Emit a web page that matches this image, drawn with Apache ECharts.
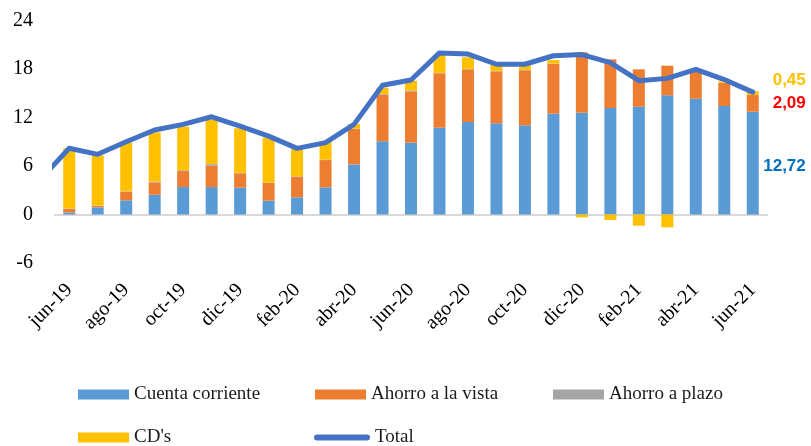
<!DOCTYPE html>
<html>
<head>
<meta charset="utf-8">
<script src="https://cdn.jsdelivr.net/npm/echarts@6/dist/echarts.min.js"></script>
<style>
  html, body { margin: 0; padding: 0; background: #ffffff; }
  #chart { width: 811px; height: 446px; }
</style>
</head>
<body>
<div id="chart"></div>
<script>
// Monthly categories, jun-19 .. jun-21
const months = ['jun-19','jul-19','ago-19','sep-19','oct-19','nov-19','dic-19','ene-20','feb-20','mar-20','abr-20','may-20',
  'jun-20','jul-20','ago-20','sep-20','oct-20','nov-20','dic-20','ene-21','feb-21','mar-21','abr-21','may-21','jun-21'];

// Stacked components
const cuentaCorriente = [0.25, 0.89, 1.76, 2.45, 3.40, 3.40, 3.32, 1.71, 2.13, 3.36, 6.20, 9.06,
  8.89, 10.74, 11.45, 11.29, 11.04, 12.48, 12.60, 13.18, 13.34, 14.75, 14.33, 13.43, 12.72];
const ahorroVista = [0.45, 0.16, 1.06, 1.53, 1.98, 2.64, 1.78, 2.19, 2.55, 3.38, 4.38, 5.73,
  6.36, 6.73, 6.52, 6.43, 6.81, 6.15, 7.47, 6.02, 4.63, 3.67, 3.67, 2.88, 2.09];
const ahorroPlazo = [0.05, 0.05, 0.05, 0.10, 0.10, 0.20, 0.05, 0.05, 0.05, 0.05, 0.05, 0.10,
  0.10, 0.05, 0.05, 0.05, 0.05, 0.05, 0.00, 0.00, 0.00, 0.00, 0.00, 0.00, -0.06];
const cds = [7.44, 6.20, 6.02, 6.09, 5.39, 5.50, 5.52, 5.55, 3.34, 2.21, 0.57, 0.81,
  1.21, 2.22, 1.43, 0.83, 0.60, 0.44, -0.35, -0.68, -1.38, -1.59, 0.00, 0.17, 0.45];

// Total line; the may-19 value only enters through its segment into jun-19
const totalMay19 = 4.4;
const total = [8.20, 7.45, 9.00, 10.46, 11.16, 12.10, 10.95, 9.70, 8.19, 8.90, 11.16, 16.00,
  16.65, 20.00, 19.86, 18.60, 18.60, 19.65, 19.80, 18.80, 16.56, 16.85, 17.97, 16.70, 15.15];

const yTicks = { min: -6, max: 24, interval: 6 };

const SERIF = '"Liberation Serif", "Times New Roman", serif';
const last = months.length - 1;
const fmt = v => v.toFixed(2).replace('.', ',');

// Value label on the final bar of a series
function withEndLabel(values, color, dy) {
  return values.map((v, i) => i !== last ? v : {
    value: v,
    label: {
      show: true, position: 'right', distance: 0, align: 'right', verticalAlign: 'middle',
      offset: [47, dy], formatter: p => fmt(p.value),
      color: color, fontFamily: '"Liberation Sans", Arial, sans-serif', fontWeight: 'bold', fontSize: 17
    }
  });
}

const barBase = { type: 'bar', stack: 'dep', barWidth: 12, xAxisIndex: 0, yAxisIndex: 0 };

const legendBase = {
  orient: 'horizontal', padding: 0, itemWidth: 51, itemHeight: 10, itemGap: 0, icon: 'rect',
  textStyle: { fontFamily: SERIF, fontSize: 19, color: '#1a1a1a' }, selectedMode: false
};

const chart = echarts.init(document.getElementById('chart'), null, { renderer: 'canvas' });
chart.setOption({
  animation: false,
  backgroundColor: '#ffffff',
  grid: { left: 55, right: 44, top: 20.6, bottom: 183, containLabel: false },
  xAxis: [
    {
      type: 'category', data: months, boundaryGap: true, position: 'bottom',
      axisLine: { show: false, onZero: false }, axisTick: { show: false },
      axisLabel: { interval: 1, rotate: 45, margin: 24, fontFamily: SERIF, fontSize: 20, color: '#000' },
      splitLine: { show: false }
    },
    {
      type: 'value', min: -0.5, max: 24.5, position: 'bottom',
      axisLine: { show: true, onZero: true, lineStyle: { color: '#D9D9D9', width: 2 } },
      axisTick: { show: false }, axisLabel: { show: false }, splitLine: { show: false }
    }
  ],
  yAxis: {
    type: 'value', min: yTicks.min, max: yTicks.max, interval: yTicks.interval,
    axisLine: { show: false }, axisTick: { show: false }, splitLine: { show: false },
    axisLabel: { margin: 22, fontFamily: SERIF, fontSize: 20, color: '#000' }
  },
  legend: [
    Object.assign({}, legendBase, { data: ['Cuenta corriente'], left: 78, top: 385 }),
    Object.assign({}, legendBase, { data: ['Ahorro a la vista'], left: 315, top: 385 }),
    Object.assign({}, legendBase, { data: ['Ahorro a plazo'], left: 553, top: 385 }),
    Object.assign({}, legendBase, { data: ["CD's"], left: 78, top: 428 }),
    Object.assign({}, legendBase, {
      data: [{ name: 'Total', icon: 'path://M3,0 L53,0 A3,3 0 0 1 53,6 L3,6 A3,3 0 0 1 3,0 Z' }],
      left: 314, top: 428, itemWidth: 56, itemHeight: 6
    })
  ],
  series: [
    Object.assign({}, barBase, { name: 'Cuenta corriente', itemStyle: { color: '#5B9BD5' },
      data: withEndLabel(cuentaCorriente, '#0070C0', 3.5) }),
    Object.assign({}, barBase, { name: 'Ahorro a la vista', itemStyle: { color: '#ED7D31' },
      data: withEndLabel(ahorroVista, '#FF0000', 0) }),
    Object.assign({}, barBase, { name: 'Ahorro a plazo', itemStyle: { color: '#A5A5A5' },
      data: ahorroPlazo }),
    Object.assign({}, barBase, { name: "CD's", itemStyle: { color: '#FFC000' },
      data: withEndLabel(cds, '#FFC000', -12.5) }),
    {
      name: 'Total', type: 'line', xAxisIndex: 1, yAxisIndex: 0, clip: true, z: 5,
      showSymbol: false, symbol: 'none', smooth: false,
      itemStyle: { color: '#4472C4' },
      lineStyle: { color: '#4472C4', width: 5, cap: 'round', join: 'round' },
      data: [[-1, totalMay19]].concat(total.map((v, i) => [i, v]))
    }
  ]
});
</script>
</body>
</html>
